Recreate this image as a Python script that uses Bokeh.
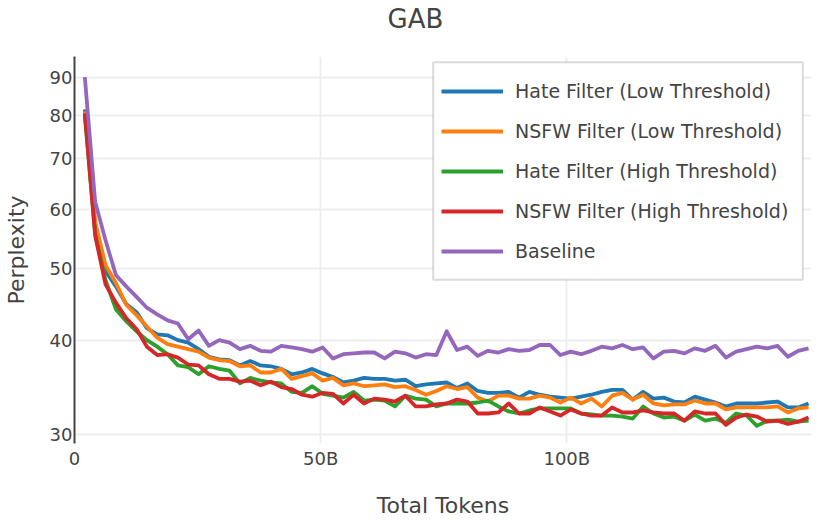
from bokeh.plotting import figure
from bokeh.models import (Range1d, FixedTicker, Legend, LegendItem, BasicTickFormatter,
                          BoxAnnotation, Title)
from bokeh.embed import file_html
from bokeh.resources import INLINE

# ---- data (tokens in billions, perplexity) ----
tokens_b = [2.1, 4.2, 6.3, 8.4, 10.5, 12.6, 14.7, 16.8, 18.9, 21.0, 23.1, 25.2, 27.3, 29.4,
            31.5, 33.6, 35.7, 37.8, 39.9, 42.0, 44.1, 46.2, 48.3, 50.4, 52.5, 54.6, 56.7,
            58.8, 60.9, 63.0, 65.1, 67.2, 69.3, 71.4, 73.5, 75.6, 77.7, 79.8, 81.9, 84.0,
            86.1, 88.2, 90.3, 92.4, 94.5, 96.6, 98.7, 100.8, 102.9, 105.0, 107.1, 109.2,
            111.3, 113.4, 115.5, 117.6, 119.7, 121.8, 123.9, 126.0, 128.1, 130.2, 132.3,
            134.4, 136.5, 138.6, 140.7, 142.8, 144.9, 147.0, 149.1]

hate_low = [81.5, 56.9, 49.6, 47.3, 44.8, 43.7, 41.6, 40.8, 40.7, 40.1, 39.8, 39.0, 38.1, 37.8,
            37.7, 37.1, 37.6, 37.1, 37.0, 36.7, 36.1, 36.3, 36.7, 36.2, 35.8, 35.2, 35.4,
            35.7, 35.6, 35.6, 35.4, 35.5, 34.8, 35.0, 35.1, 35.2, 34.6, 35.1, 34.3, 34.1,
            34.1, 34.2, 33.6, 34.2, 33.9, 33.7, 33.6, 33.5, 33.7, 33.9, 34.2, 34.4, 34.4,
            33.4, 34.2, 33.5, 33.6, 33.2, 33.1, 33.7, 33.4, 33.1, 32.7, 33.0, 33.0, 33.0,
            33.1, 33.2, 32.6, 32.6, 33.0]

nsfw_low = [81.0, 57.7, 50.5, 47.8, 44.7, 43.3, 41.8, 40.4, 39.6, 39.3, 39.0, 38.7, 38.0, 37.7,
            37.6, 37.0, 37.1, 36.3, 36.3, 36.7, 35.6, 35.9, 36.2, 35.4, 35.7, 34.9, 35.1,
            34.8, 34.9, 35.0, 34.7, 34.8, 34.4, 33.9, 34.3, 34.8, 34.5, 34.7, 33.6, 33.2,
            33.8, 33.8, 33.5, 33.5, 33.8, 33.6, 33.1, 33.6, 33.0, 33.5, 32.7, 33.8, 34.1,
            33.4, 33.9, 33.0, 32.8, 32.9, 32.9, 33.3, 33.0, 33.0, 32.4, 32.6, 32.6, 32.6,
            32.6, 32.7, 32.1, 32.5, 32.6]

hate_high = [80.0, 55.6, 48.2, 44.1, 42.5, 41.2, 40.1, 39.3, 38.4, 37.1, 36.9, 36.1, 37.0, 36.7,
             36.5, 35.1, 35.7, 35.4, 35.2, 35.1, 34.2, 34.1, 34.8, 34.0, 33.8, 33.6, 34.2,
             33.3, 33.4, 33.3, 32.7, 33.8, 33.5, 33.4, 32.7, 33.0, 33.0, 33.0, 33.1, 33.3,
             32.7, 32.2, 32.0, 32.3, 32.5, 32.5, 32.5, 32.5, 32.0, 31.9, 31.8, 31.8, 31.7,
             31.5, 32.7, 32.0, 31.6, 31.7, 31.3, 31.9, 31.3, 31.5, 31.1, 32.0, 31.8, 30.8,
             31.3, 31.3, 31.4, 31.2, 31.3]

nsfw_high = [80.5, 55.3, 47.6, 45.0, 42.9, 41.5, 39.3, 38.3, 38.4, 38.0, 37.2, 37.1, 36.1, 35.6,
             35.6, 35.3, 35.4, 34.9, 35.3, 34.7, 34.5, 33.9, 33.7, 34.1, 34.0, 33.0, 33.9,
             33.0, 33.5, 33.4, 33.2, 33.8, 32.7, 32.7, 32.9, 33.0, 33.4, 33.2, 32.0, 32.0,
             32.1, 33.0, 32.0, 32.0, 32.6, 32.2, 31.8, 32.4, 32.0, 31.8, 31.8, 32.6, 32.1,
             32.1, 32.3, 32.1, 32.0, 32.0, 31.3, 32.2, 32.0, 32.0, 30.9, 31.6, 31.9, 31.7,
             31.2, 31.3, 31.0, 31.2, 31.6]

baseline = [90.0, 61.3, 54.5, 49.0, 47.3, 45.8, 44.3, 43.4, 42.6, 42.2, 40.2, 41.3, 39.4, 40.1,
            39.8, 39.0, 39.4, 38.8, 38.7, 39.4, 39.2, 39.0, 38.7, 39.2, 37.9, 38.4, 38.5,
            38.6, 38.6, 37.9, 38.7, 38.5, 38.0, 38.4, 38.3, 41.2, 38.9, 39.3, 38.2, 38.8,
            38.6, 39.0, 38.8, 38.9, 39.5, 39.5, 38.3, 38.7, 38.4, 38.8, 39.3, 39.1, 39.5,
            39.0, 39.2, 37.9, 38.7, 38.8, 38.5, 39.1, 38.8, 39.4, 38.0, 38.7, 39.0, 39.3,
            39.1, 39.4, 38.1, 38.8, 39.1]

series_names = ["Hate Filter (Low Threshold)", "NSFW Filter (Low Threshold)",
                "Hate Filter (High Threshold)", "NSFW Filter (High Threshold)", "Baseline"]
series_values = [hate_low, nsfw_low, hate_high, nsfw_high, baseline]
series_colors = ["#1f77b4", "#ff7f0e", "#2ca02c", "#d62728", "#9467bd"]

x_ticks = [0, 50, 100]
x_tick_labels = {0: "0", 50: "50B", 100: "100B"}
y_ticks = [30, 40, 50, 60, 70, 80, 90]

FONT = "DejaVu Sans"
TXT = "#444444"

p = figure(width=830, height=520, output_backend="svg", toolbar_location=None,
           y_axis_type="log",
           x_range=Range1d(0, 149.7), y_range=Range1d(29.18, 95.9),
           min_border_left=74, min_border_right=19, min_border_top=56, min_border_bottom=77,
           background_fill_color="white", border_fill_color="white")
p.outline_line_color = None

# title (an empty spacer panel sits between the title and the plot area)
p.title.text = "GAB"
p.title.align = "left"
p.title.offset = 313
p.title.vertical_align = "top"
p.title.standoff = 0
p.title.text_font = FONT
p.title.text_font_size = "26px"
p.title.text_font_style = "normal"
p.title.text_color = TXT
p.add_layout(Title(text=" ", text_font_size="10px", standoff=8), "above")

# axes
p.xaxis.ticker = FixedTicker(ticks=x_ticks)
p.xaxis.major_label_overrides = x_tick_labels
p.xaxis.axis_line_color = None
p.xaxis.major_label_standoff = 4
p.xaxis.axis_label = "Total Tokens"
p.xaxis.axis_label_standoff = 21

p.yaxis.ticker = FixedTicker(ticks=y_ticks)
p.yaxis.formatter = BasicTickFormatter()
p.yaxis.axis_line_color = TXT
p.yaxis.axis_line_width = 2
p.yaxis.major_label_standoff = 2
p.yaxis.axis_label = "Perplexity"
p.yaxis.axis_label_standoff = 18

for ax in (p.xaxis, p.yaxis):
    ax.major_tick_line_color = None
    ax.minor_tick_line_color = None
    ax.major_tick_out = 0
    ax.major_tick_in = 0
    ax.minor_tick_out = 0
    ax.minor_tick_in = 0
    ax.major_label_text_font = FONT
    ax.major_label_text_font_size = "18px"
    ax.major_label_text_color = TXT
    ax.axis_label_text_font = FONT
    ax.axis_label_text_font_size = "22px"
    ax.axis_label_text_font_style = "normal"
    ax.axis_label_text_color = TXT

p.xgrid.grid_line_color = "#eeeeee"
p.xgrid.grid_line_width = 2
p.ygrid.grid_line_color = "#eeeeee"
p.ygrid.grid_line_width = 2

items = []
for name, vals, col in zip(series_names, series_values, series_colors):
    r = p.line(tokens_b, vals, line_color=col, line_width=3.8, line_join="round")
    items.append(LegendItem(label=name, renderers=[r]))

# legend frame (white box with grey border)
box = BoxAnnotation(left=72.86, right=147.93, top=94.24, bottom=48.28,
                    fill_color="white", fill_alpha=1.0,
                    line_color="#888888", line_width=2)
p.add_layout(box)

legend = Legend(items=items, location=(367, 172))
legend.padding = 10
legend.margin = 0
legend.spacing = 0
legend.glyph_width = 62
legend.glyph_height = 40
legend.label_height = 40
legend.label_standoff = 12
legend.label_text_font = FONT
legend.label_text_font_size = "19px"
legend.label_text_color = TXT
legend.border_line_color = None
legend.background_fill_alpha = 0.0
p.add_layout(legend)

open("out.html", "w").write(file_html(p, INLINE))
